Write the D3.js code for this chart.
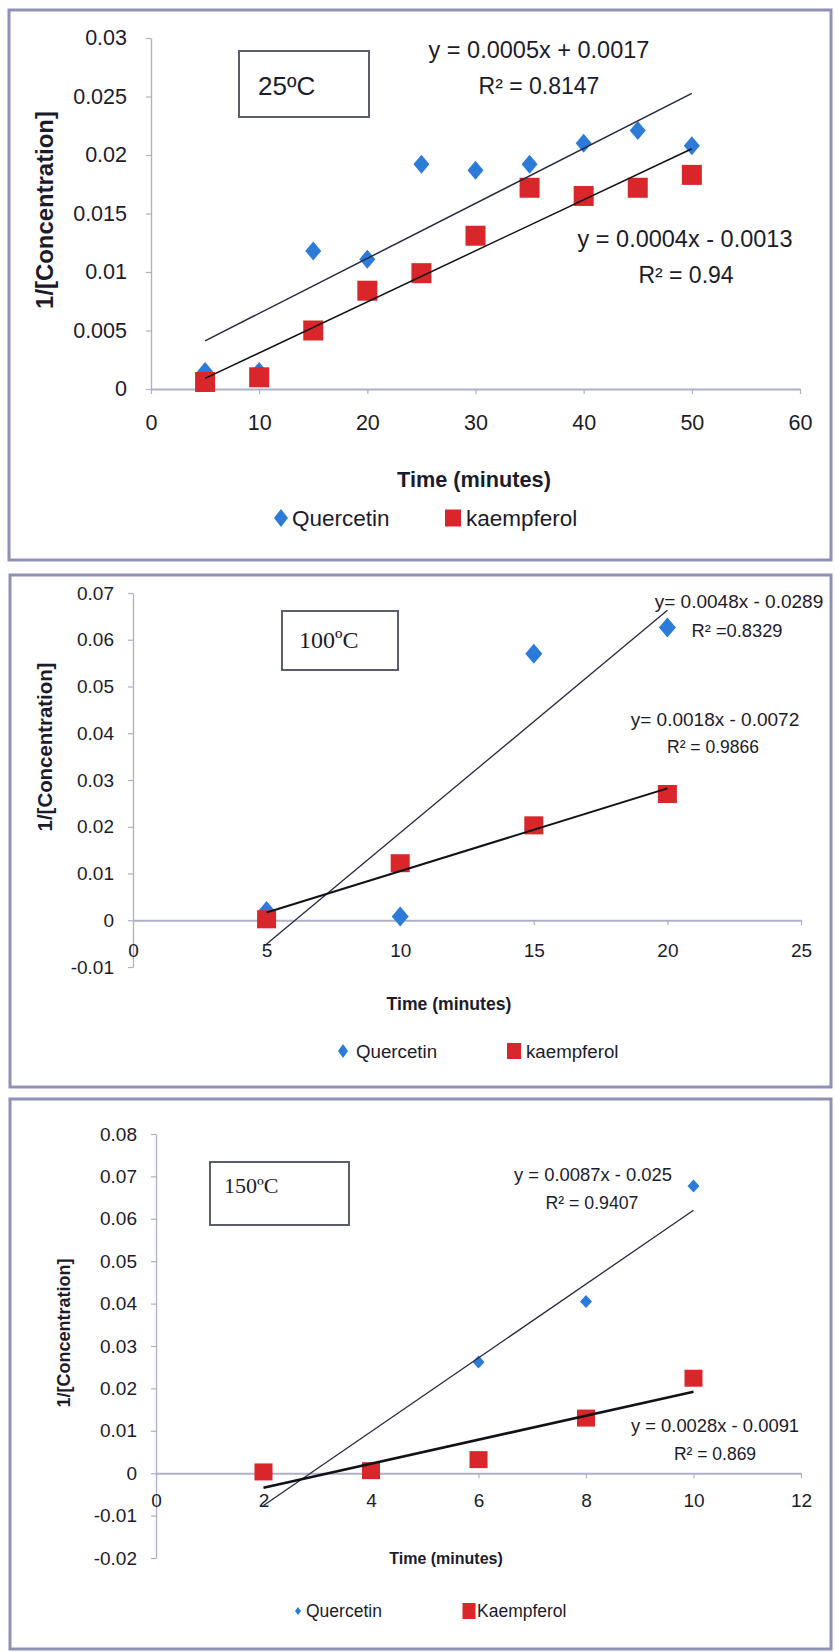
<!DOCTYPE html>
<html>
<head>
<meta charset="utf-8">
<script src="https://cdn.jsdelivr.net/npm/d3@7"></script>
<style>
  html, body { margin: 0; padding: 0; background: #fff; }
  svg { display: block; }
</style>
</head>
<body>
<svg id="chart" width="835" height="1652"></svg>
<script>
// ---- 25 ºC run ----
const time25 = [5, 10, 15, 20, 25, 30, 35, 40, 45, 50];
const quercetin25 = [0.0015, 0.0015, 0.0118, 0.0111, 0.0192, 0.0187, 0.0192, 0.0210, 0.0221, 0.0208];
const kaempferol25 = [0.0006, 0.0010, 0.0050, 0.0084, 0.0099, 0.0131, 0.0172, 0.0165, 0.0172, 0.0183];
const xTicks25 = [0, 10, 20, 30, 40, 50, 60];
const yTicks25 = [0, 0.005, 0.01, 0.015, 0.02, 0.025, 0.03];
const fitText25 = [["y = 0.0005x + 0.0017", "R² = 0.8147"], ["y = 0.0004x - 0.0013", "R² = 0.94"]];

// ---- 100 ºC run ----
const time100 = [5, 10, 15, 20];
const quercetin100 = [0.0020, 0.0008, 0.0570, 0.0626];
const kaempferol100 = [0.0002, 0.0122, 0.0203, 0.0270];
const xTicks100 = [0, 5, 10, 15, 20, 25];
const yTicks100 = [-0.01, 0, 0.01, 0.02, 0.03, 0.04, 0.05, 0.06, 0.07];
const fitText100 = [["y= 0.0048x - 0.0289", "R² =0.8329"], ["y= 0.0018x - 0.0072", "R² = 0.9866"]];

// ---- 150 ºC run ----
const time150 = [2, 4, 6, 8, 10];
const quercetin150 = [0.0005, 0.0010, 0.02625, 0.0405, 0.06775];
const kaempferol150 = [0.0003, 0.0006, 0.0032, 0.0130, 0.0224];
const xTicks150 = [0, 2, 4, 6, 8, 10, 12];
const yTicks150 = [-0.02, -0.01, 0, 0.01, 0.02, 0.03, 0.04, 0.05, 0.06, 0.07, 0.08];
const fitText150 = [["y = 0.0087x - 0.025", "R² = 0.9407"], ["y = 0.0028x - 0.0091", "R² = 0.869"]];

const temperatures = ["25ºC", "100ºC", "150ºC"];
const legendNames = [["Quercetin", "kaempferol"], ["Quercetin", "kaempferol"], ["Quercetin", "Kaempferol"]];
const xTitle = "Time (minutes)";
const yTitle = "1/[Concentration]";

const SANS = "'Liberation Sans', Arial, sans-serif";
const SERIF = "'Liberation Serif', 'Times New Roman', serif";
const BLUE = "#2c7bd8", RED = "#d8262b", INK = "#1b1b2b", AXIS = "#aeb0c8", FRAME = "#8e90b6";

// Least-squares straight line, as used for the trend lines
function linearFit(xs, ys) {
  const mx = d3.mean(xs), my = d3.mean(ys);
  const sxy = d3.sum(xs, (x, i) => (x - mx) * (ys[i] - my));
  const sxx = d3.sum(xs, x => (x - mx) * (x - mx));
  const slope = sxy / sxx;
  return { slope, intercept: my - slope * mx };
}

const diamond = (w, h) => `M0,${-h}L${w},0L0,${h}L${-w},0Z`;

const panels = [
  {
    time: time25, q: quercetin25, k: kaempferol25, xTicks: xTicks25, yTicks: yTicks25, fits: fitText25,
    temp: temperatures[0], legend: legendNames[0],
    frame: [9, 10, 822, 550],
    xRange: [151, 800], yRange: [389, 38],
    tickFont: 21.5, yPad: 19, xPad: 21,
    dia: [8, 9.5], sq: [20, 20], lineW: [1.5, 1.5],
    fitPos: [[539, 50, 23.5, 539, 86, 23], [685, 239, 23.5, 686, 275, 23]],
    box: [239, 51, 130, 66], boxText: [258, 86, 26, SANS],
    yTitle: [45, 210, 23.9], xTitle: [474, 479, 21.7],
    leg: { y: 518, font: 22.5, d: [281, 7, 9], dText: 292, s: [453, 16, 17], sText: 466 }
  },
  {
    time: time100, q: quercetin100, k: kaempferol100, xTicks: xTicks100, yTicks: yTicks100, fits: fitText100,
    temp: temperatures[1], legend: legendNames[1],
    frame: [10, 575, 821, 512],
    xRange: [133, 801], yRange: [967, 593],
    tickFont: 19, yPad: 14, xPad: 18,
    dia: [8.5, 10], sq: [19, 18], lineW: [1.3, 2],
    fitPos: [[739, 601, 19, 737, 631, 18.3], [715, 719, 19, 713, 747, 17.5]],
    box: [282, 611, 116, 59], boxText: [299, 640, 24, SERIF],
    yTitle: [45, 747, 20.4], xTitle: [449, 1004, 17.6],
    leg: { y: 1051, font: 18.7, d: [343, 5, 7], dText: 356, s: [514, 14, 16], sText: 526 }
  },
  {
    time: time150, q: quercetin150, k: kaempferol150, xTicks: xTicks150, yTicks: yTicks150, fits: fitText150,
    temp: temperatures[2], legend: legendNames[2],
    frame: [10, 1099, 821, 550],
    xRange: [156, 801], yRange: [1558, 1134],
    tickFont: 19, yPad: 14, xPad: 15,
    dia: [6, 6.5], sq: [18, 17], lineW: [1.3, 2.6],
    fitPos: [[593, 1175, 18.4, 592, 1203, 17.7], [715, 1426, 18.4, 715, 1454, 17.5]],
    box: [210, 1162, 139, 63], boxText: [224, 1185, 22, SERIF],
    yTitle: [64, 1333, 18], xTitle: [446, 1558, 16],
    leg: { y: 1611, font: 17.5, d: [298, 3, 4], dText: 306, s: [469, 13, 16], sText: 477 }
  }
];

const svg = d3.select("#chart");

panels.forEach(p => {
  const g = svg.append("g");

  // outer frame
  g.append("rect")
    .attr("x", p.frame[0]).attr("y", p.frame[1])
    .attr("width", p.frame[2]).attr("height", p.frame[3])
    .attr("fill", "#fff").attr("stroke", FRAME).attr("stroke-width", 3);

  const x = d3.scaleLinear().domain(d3.extent(p.xTicks)).range(p.xRange);
  const y = d3.scaleLinear().domain(d3.extent(p.yTicks)).range(p.yRange);

  // value axis
  const ya = g.append("g")
    .attr("transform", `translate(${x(0)},0)`)
    .call(d3.axisLeft(y).tickValues(p.yTicks).tickFormat(d => String(d))
      .tickSize(5).tickSizeOuter(0).tickPadding(p.yPad))
    .attr("font-family", SANS).attr("font-size", p.tickFont);
  ya.select(".domain").attr("stroke", AXIS).attr("stroke-width", 1.3);
  ya.selectAll(".tick line").attr("stroke", AXIS).attr("stroke-width", 1.2);
  ya.selectAll(".tick text").attr("fill", INK);

  // time axis, crossing at zero
  const xa = g.append("g")
    .attr("transform", `translate(0,${y(0)})`)
    .call(d3.axisBottom(x).tickValues(p.xTicks).tickFormat(d => String(d))
      .tickSize(5).tickSizeOuter(0).tickPadding(p.xPad))
    .attr("font-family", SANS).attr("font-size", p.tickFont);
  xa.select(".domain").attr("stroke", AXIS).attr("stroke-width", 2);
  xa.selectAll(".tick line").attr("stroke", AXIS).attr("stroke-width", 1.2);
  xa.selectAll(".tick text").attr("fill", INK);

  // Quercetin markers
  g.append("g").selectAll("path")
    .data(p.time.map((t, i) => [t, p.q[i]]))
    .join("path")
    .attr("transform", d => `translate(${x(d[0])},${y(d[1])})`)
    .attr("d", diamond(p.dia[0], p.dia[1]))
    .attr("fill", BLUE);

  // kaempferol markers
  g.append("g").selectAll("rect")
    .data(p.time.map((t, i) => [t, p.k[i]]))
    .join("rect")
    .attr("x", d => x(d[0]) - p.sq[0] / 2)
    .attr("y", d => y(d[1]) - p.sq[1] / 2)
    .attr("width", p.sq[0]).attr("height", p.sq[1])
    .attr("fill", RED);

  // trend lines
  [p.q, p.k].forEach((vals, si) => {
    const f = linearFit(p.time, vals);
    const [t0, t1] = d3.extent(p.time);
    g.append("line")
      .attr("x1", x(t0)).attr("y1", y(f.intercept + f.slope * t0))
      .attr("x2", x(t1)).attr("y2", y(f.intercept + f.slope * t1))
      .attr("stroke", si === 0 ? "#262842" : "#111118")
      .attr("stroke-width", p.lineW[si]);
  });

  // equation labels
  p.fits.forEach((lines, si) => {
    const pos = p.fitPos[si];
    g.append("text").attr("x", pos[0]).attr("y", pos[1]).attr("dy", "0.35em")
      .attr("text-anchor", "middle").attr("font-family", SANS).attr("font-size", pos[2])
      .attr("fill", INK).text(lines[0]);
    g.append("text").attr("x", pos[3]).attr("y", pos[4]).attr("dy", "0.35em")
      .attr("text-anchor", "middle").attr("font-family", SANS).attr("font-size", pos[5])
      .attr("fill", INK).text(lines[1]);
  });

  // temperature box
  g.append("rect")
    .attr("x", p.box[0]).attr("y", p.box[1]).attr("width", p.box[2]).attr("height", p.box[3])
    .attr("fill", "#fff").attr("stroke", "#5a5e6c").attr("stroke-width", 2);
  g.append("text")
    .attr("x", p.boxText[0]).attr("y", p.boxText[1]).attr("dy", "0.35em")
    .attr("font-family", p.boxText[3]).attr("font-size", p.boxText[2])
    .attr("fill", INK).text(p.temp);

  // axis titles
  g.append("text")
    .attr("transform", `translate(${p.yTitle[0]},${p.yTitle[1]}) rotate(-90)`)
    .attr("dy", "0.35em").attr("text-anchor", "middle")
    .attr("font-family", SANS).attr("font-weight", "bold").attr("font-size", p.yTitle[2])
    .attr("fill", INK).text(yTitle);
  g.append("text")
    .attr("x", p.xTitle[0]).attr("y", p.xTitle[1]).attr("dy", "0.35em").attr("text-anchor", "middle")
    .attr("font-family", SANS).attr("font-weight", "bold").attr("font-size", p.xTitle[2])
    .attr("fill", INK).text(xTitle);

  // legend
  const L = p.leg;
  g.append("path")
    .attr("transform", `translate(${L.d[0]},${L.y})`)
    .attr("d", diamond(L.d[1], L.d[2])).attr("fill", BLUE);
  g.append("text").attr("x", L.dText).attr("y", L.y).attr("dy", "0.35em")
    .attr("font-family", SANS).attr("font-size", L.font).attr("fill", INK).text(p.legend[0]);
  g.append("rect")
    .attr("x", L.s[0] - L.s[1] / 2).attr("y", L.y - L.s[2] / 2)
    .attr("width", L.s[1]).attr("height", L.s[2]).attr("fill", RED);
  g.append("text").attr("x", L.sText).attr("y", L.y).attr("dy", "0.35em")
    .attr("font-family", SANS).attr("font-size", L.font).attr("fill", INK).text(p.legend[1]);
});
</script>
</body>
</html>
